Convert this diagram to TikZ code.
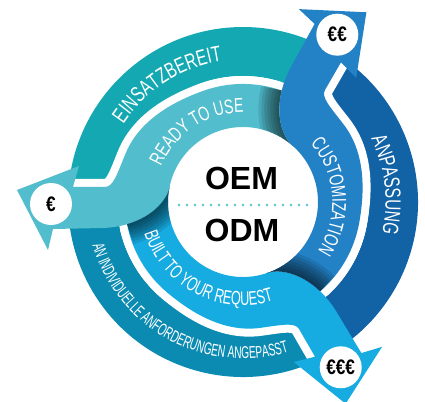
\documentclass[tikz,border=0pt]{standalone}
\usepackage{fontspec}
\setmainfont{Liberation Sans}
\newfontfamily\cfa[FakeStretch=0.7]{Liberation Sans}
\newfontfamily\cfc[FakeStretch=0.65]{Liberation Sans}
\newfontfamily\cfb[FakeStretch=0.6]{Liberation Sans}
\newfontfamily\cfe[FakeStretch=0.82]{Liberation Sans}
\usetikzlibrary{decorations.text}
\definecolor{tealO}{HTML}{14A9B2}
\definecolor{tealI}{HTML}{52BDCD}
\definecolor{blueO}{HTML}{1262A6}
\definecolor{blueI}{HTML}{2381C5}
\definecolor{cyanO}{HTML}{0B8BB2}
\definecolor{cyanI}{HTML}{16ABE1}
\definecolor{dotc}{HTML}{55BFD0}
\newcommand{\fbig}{\cfa\fontsize{22}{22}\selectfont}
\newcommand{\fmid}{\cfa\fontsize{20}{20}\selectfont}
\newcommand{\fbuilt}{\cfc\fontsize{19.5}{19.5}\selectfont}
\newcommand{\fsmall}{\cfb\fontsize{17}{17}\selectfont}
% one twisted arrow (READY TO USE); the others are rotations of it
\newcommand{\arrowshape}{(48:75pt) .. controls (41.43,62.31) and (31.66,83.03) .. (38.75,111.51)
  arc[start angle=70.83, end angle=110, radius=118pt]
  .. controls (-71.8,99.5) and (-104.3,81.0) .. (-117.8,47.6)
  .. controls (-126.1,27.2) and (-130,15) .. (-138,15) -- (-170,15)
  -- (-164,36) -- (-226,12) -- (-195,-48) -- (-190,-27) -- (-140,-26)
  .. controls (-95,-24) and (-75,2) .. (168:75pt)
  arc[start angle=168, end angle=48, radius=75pt] -- cycle}
\newcommand{\tailcurve}{(48:75pt) .. controls (41.43,62.31) and (31.66,83.03) .. (38.75,111.51)}
\newcommand{\cwedge}{(72:118pt) arc[start angle=72, end angle=110, radius=118pt]
  .. controls (-71.8,99.5) and (-104.3,81.0) .. (-117.8,47.6)
  .. controls (-126.1,27.2) and (-130,15) .. (-138,15) -- (-170,15)}
\newcommand{\outerband}[2]{(#1:126pt) arc[start angle=#1, end angle=#2, radius=126pt]
  -- (#2:175pt) arc[start angle=#2, end angle=#1, radius=175pt] -- cycle}
\tikzset{
  bandtext/.style={decorate, decoration={text along path, text align=center, text color=white, text={#1}}},
  eurocirc/.style={circle, fill=white, minimum size=42pt, inner sep=0pt, font=\cfe\bfseries\fontsize{21}{21}\selectfont},
  bigtext/.style={font=\bfseries\fontsize{32}{32}\selectfont, inner sep=0pt}
}
\begin{document}
\begin{tikzpicture}[x=1pt,y=1pt]
\useasboundingbox (-243,-199) rectangle (182,202);
% outer ring bands
\fill[tealO] \outerband{61}{181};
\fill[cyanO] \outerband{181}{301};
\fill[blueO] \outerband{301}{421};
% white gaps along the outer side of the inner arrows
\foreach \ang in {0,120,240} \draw[white, line width=16pt, rotate=\ang] \cwedge;
% inner twisted arrows with shadow at their tails
\foreach \ang/\col in {0/tealI,120/cyanI,240/blueI} {
  \fill[\col, rotate=\ang] \arrowshape;
  \begin{scope}[rotate=\ang]
    \clip \arrowshape;
    \foreach \w in {6,12,...,42} \draw[black, opacity=0.1, line width=\w pt] \tailcurve;
  \end{scope}
}
% band texts
\path[bandtext={|\fbig|EINSATZBEREIT}] (182.7:142.6pt) arc[start angle=182.7, end angle=62.7, radius=142.6pt];
\path[bandtext={|\fmid|READY TO USE}] (183:89.3pt) arc[start angle=183, end angle=63, radius=89.3pt];
\path[bandtext={|\fbig|ANPASSUNG}] (66.8:142.6pt) arc[start angle=66.8, end angle=-53.2, radius=142.6pt];
\path[bandtext={|\fmid|CUSTOMIZATION}] (64:89.3pt) arc[start angle=64, end angle=-56, radius=89.3pt];
\path[bandtext={|\fbuilt|BUILT TO YOUR REQUEST}] (182.4:103.5pt) arc[start angle=182.4, end angle=302.4, radius=103.5pt];
\path[bandtext={|\fsmall|AN INDIVIDUELLE ANFORDERUNGEN ANGEPASST}] (181.5:156.6pt) arc[start angle=181.5, end angle=301.5, radius=156.6pt];
% price markers
\node[eurocirc] (euro1) at (-192,-2) {€};
\node[eurocirc] (euro2) at (94.3,167.3) {€€};
\node[eurocirc] (euro3) at (97.7,-165.3) {€€€};
% centre
\node[bigtext] (oem) at (-1.5,23.5) {OEM};
\node[bigtext] (odm) at (-1,-28.5) {ODM};
\foreach \i in {0,...,16} \fill[dotc] ({-64+8*\i},-3) circle[radius=1.3pt];
\end{tikzpicture}
\end{document}
